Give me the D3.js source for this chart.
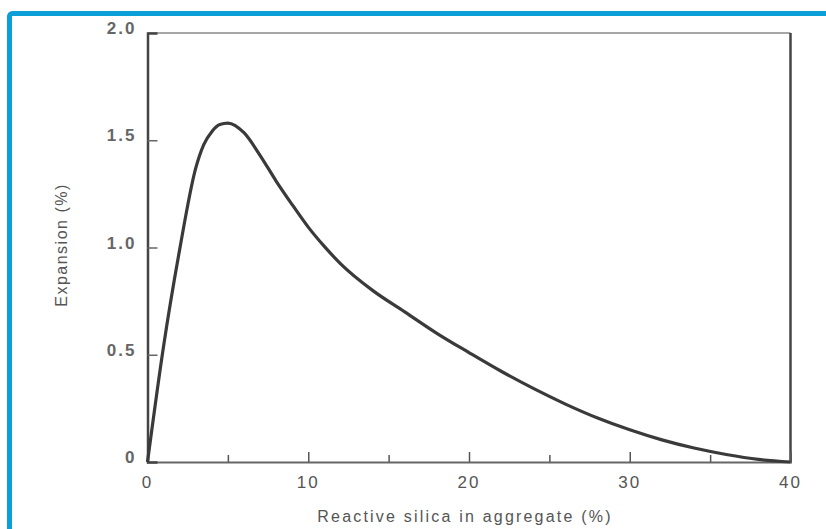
<!DOCTYPE html>
<html>
<head>
<meta charset="utf-8">
<script src="https://cdn.jsdelivr.net/npm/d3@7"></script>
<style>
  html, body { margin: 0; padding: 0; background: #fff; }
  svg { display: block; font-family: "Liberation Sans", Arial, sans-serif; }
</style>
</head>
<body>
<div id="chart"></div>
<script>
// Reactive silica (%) vs expansion (%)
const silica = [0, 1, 2, 3, 3.5, 4, 4.5, 5, 6, 7, 8, 9, 10, 11, 12, 14, 16, 18, 20, 22, 24, 26, 28, 30, 32, 34, 36, 38, 40];
const expansion = [0, 0.54, 0.99, 1.37, 1.48, 1.54, 1.573, 1.58, 1.535, 1.43, 1.31, 1.20, 1.095, 1.005, 0.925, 0.80, 0.70, 0.60, 0.51, 0.423, 0.343, 0.27, 0.205, 0.15, 0.103, 0.065, 0.035, 0.012, 0];

const xTicks = [0, 10, 20, 30, 40];
const xMinorTicks = [5, 15, 25, 35];
const yTicks = [0, 0.5, 1.0, 1.5, 2.0];
const yTickLabels = ["0", "0.5", "1.0", "1.5", "2.0"];

const width = 826, height = 529;
const plot = { left: 147.5, right: 790.5, top: 33, bottom: 462 };

const svg = d3.select("#chart").append("svg")
    .attr("width", width)
    .attr("height", height);

// blue frame round the picture
svg.append("rect")
    .attr("x", 9.5).attr("y", 13.5)
    .attr("width", 900).attr("height", 700)
    .attr("rx", 3)
    .attr("fill", "none")
    .attr("stroke", "#0a9fd6")
    .attr("stroke-width", 5);

const x = d3.scaleLinear().domain([0, 40]).range([plot.left, plot.right]);
const y = d3.scaleLinear().domain([0, 2]).range([plot.bottom, plot.top]);

// box
svg.append("line")
    .attr("x1", plot.left).attr("x2", plot.right)
    .attr("y1", plot.top).attr("y2", plot.top)
    .attr("stroke", "#8a8a8a").attr("stroke-width", 1.5);
svg.append("line")
    .attr("x1", plot.right).attr("x2", plot.right)
    .attr("y1", plot.top).attr("y2", plot.bottom)
    .attr("stroke", "#444").attr("stroke-width", 2.5);

// x axis with inward ticks
const xAxis = svg.append("g")
    .attr("transform", `translate(0,${plot.bottom})`)
    .call(d3.axisTop(x).tickValues(xTicks).tickSize(10).tickFormat(""));
xAxis.select(".domain").attr("stroke", "#666").attr("stroke-width", 2);
xAxis.selectAll(".tick line").attr("stroke", "#555").attr("stroke-width", 1.5);

const xMinor = svg.append("g")
    .attr("transform", `translate(0,${plot.bottom})`)
    .call(d3.axisTop(x).tickValues(xMinorTicks).tickSize(7).tickFormat(""));
xMinor.select(".domain").remove();
xMinor.selectAll(".tick line").attr("stroke", "#555").attr("stroke-width", 1.5);

svg.append("g").selectAll("text")
    .data(xTicks)
    .join("text")
    .attr("x", d => x(d))
    .attr("y", plot.bottom + 26)
    .attr("text-anchor", "middle")
    .attr("font-size", 17)
    .attr("letter-spacing", 2)
    .attr("fill", "#555")
    .text(d => d);

// y axis with inward ticks
const yAxis = svg.append("g")
    .attr("transform", `translate(${plot.left},0)`)
    .call(d3.axisRight(y).tickValues([0.5, 1.0, 1.5]).tickSize(10).tickFormat(""));
yAxis.select(".domain").attr("stroke", "#444").attr("stroke-width", 2.5);
yAxis.selectAll(".tick line").attr("stroke", "#666").attr("stroke-width", 1.5);

svg.append("g").selectAll("text")
    .data(yTicks)
    .join("text")
    .attr("x", plot.left - 11)
    .attr("y", d => y(d) + 1)
    .attr("text-anchor", "end")
    .attr("font-size", 17)
    .attr("font-weight", "bold")
    .attr("letter-spacing", 2)
    .attr("fill", "#666")
    .text((d, i) => yTickLabels[i]);

// axis titles
svg.append("text")
    .attr("x", 465)
    .attr("y", 522)
    .attr("text-anchor", "middle")
    .attr("font-size", 16)
    .attr("letter-spacing", 2.2)
    .attr("fill", "#555")
    .text("Reactive silica in aggregate (%)");

svg.append("text")
    .attr("transform", `translate(67,245) rotate(-90)`)
    .attr("text-anchor", "middle")
    .attr("font-size", 16)
    .attr("letter-spacing", 1.5)
    .attr("fill", "#555")
    .text("Expansion (%)");

// curve
const points = silica.map((s, i) => [s, expansion[i]]);
const line = d3.line()
    .x(d => x(d[0]))
    .y(d => y(d[1]))
    .curve(d3.curveMonotoneX);

svg.append("path")
    .datum(points)
    .attr("d", line)
    .attr("fill", "none")
    .attr("stroke", "#3a3a3a")
    .attr("stroke-width", 3.2)
    .attr("stroke-linejoin", "round");
</script>
</body>
</html>
